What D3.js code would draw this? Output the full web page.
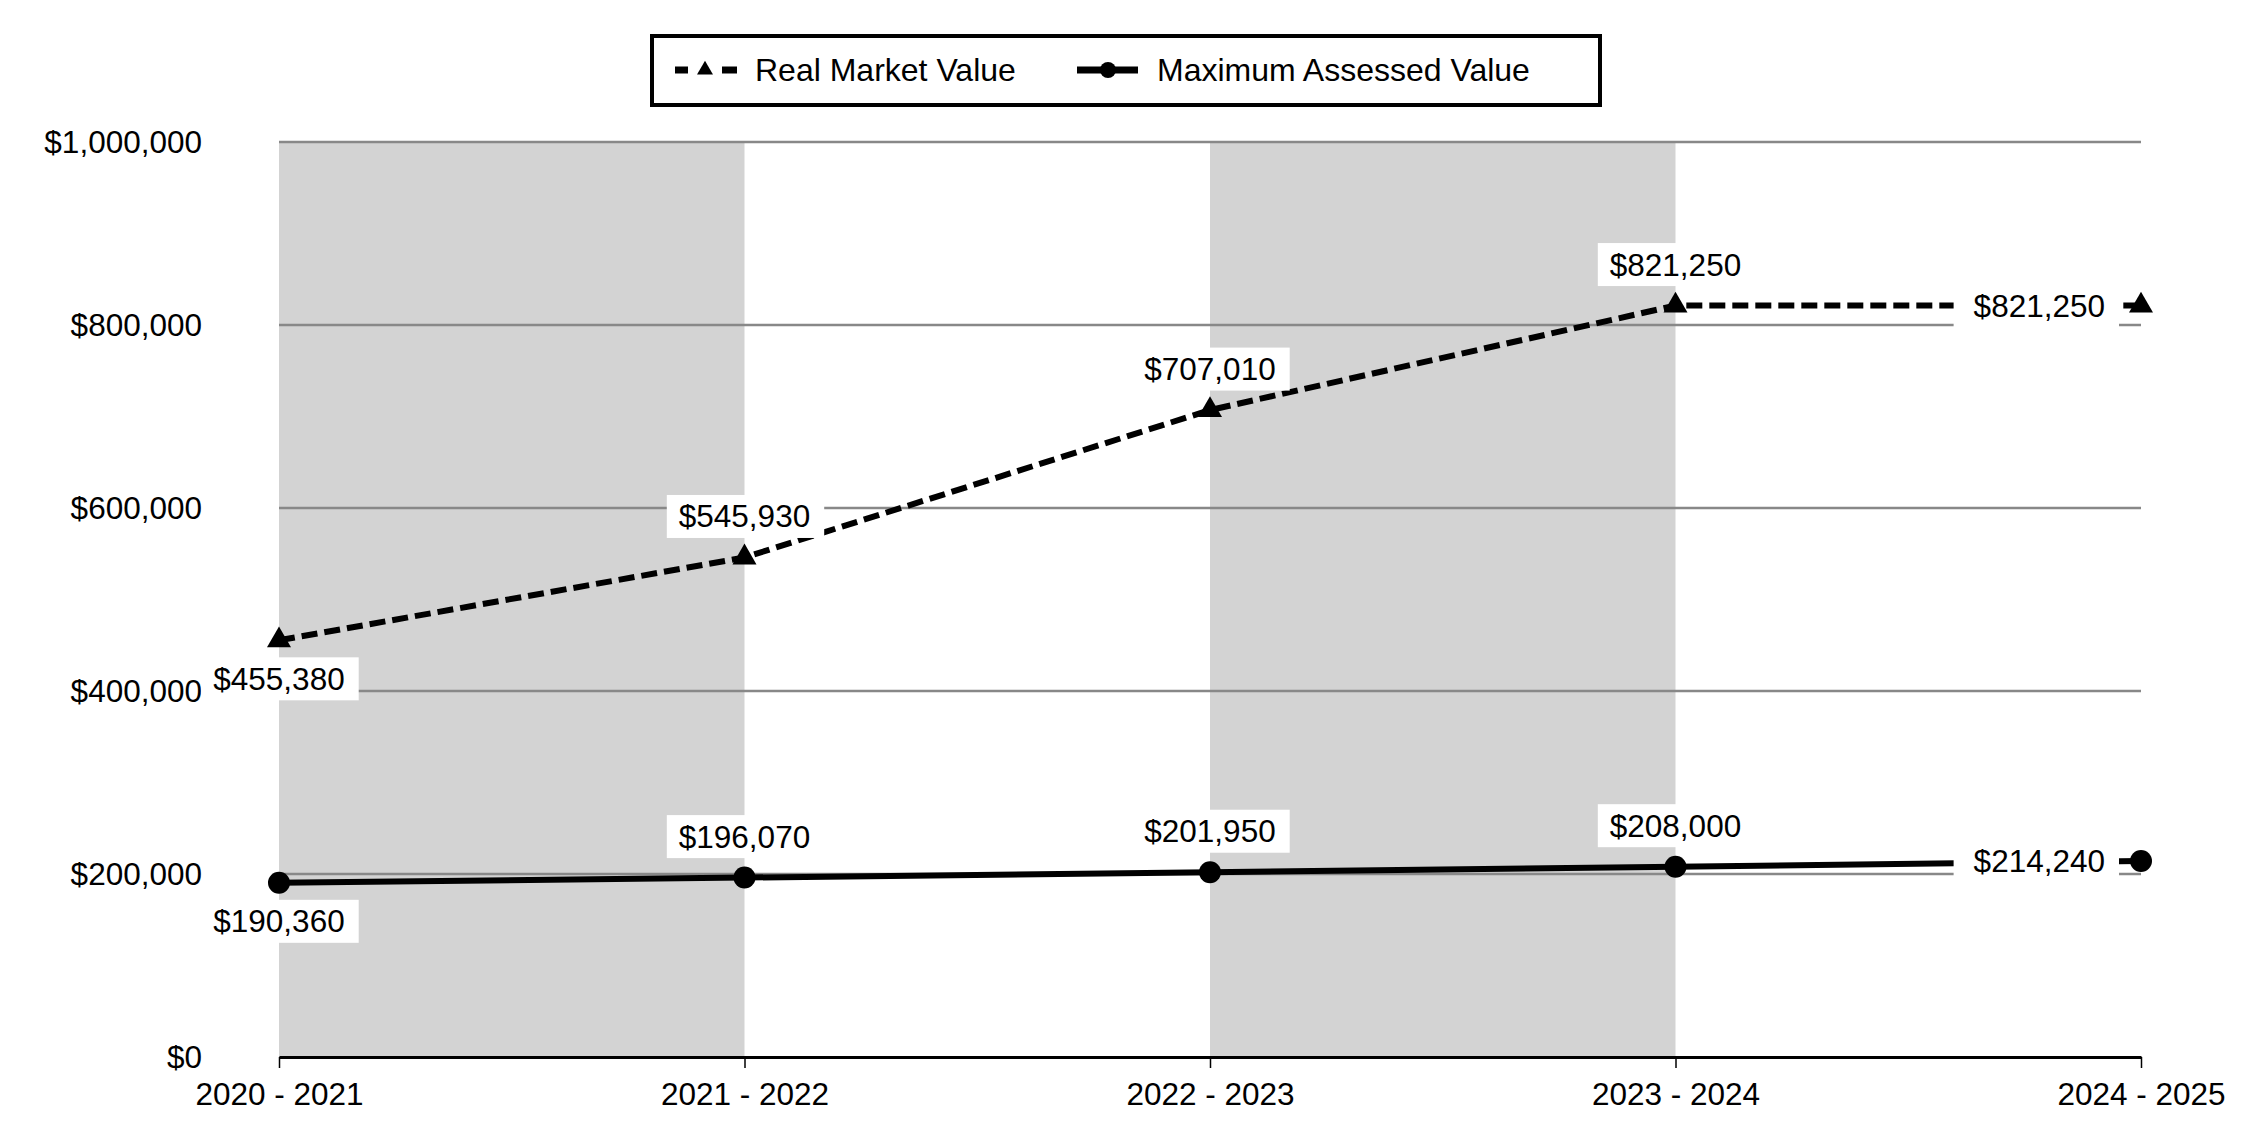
<!DOCTYPE html>
<html>
<head>
<meta charset="utf-8">
<script src="https://cdn.jsdelivr.net/npm/d3@7"></script>
<style>
  body { margin: 0; background: #fff; }
  text { font-family: "Liberation Sans", Arial, sans-serif; fill: #000; }
</style>
</head>
<body>
<div id="chart"></div>
<script>

// Chart values
const categories = ["2020 - 2021", "2021 - 2022", "2022 - 2023", "2023 - 2024", "2024 - 2025"];
const realMarket = [455380, 545930, 707010, 821250, 821250];
const maxAssessed = [190360, 196070, 201950, 208000, 214240];
const yTicks = [0, 200000, 400000, 600000, 800000, 1000000];
const seriesNames = ["Real Market Value", "Maximum Assessed Value"];

// Dimensions
const width = 2250;
const height = 1140;
const margin = {left: 279, right: 109, top: 142, bottom: 83};
const fontSize = 31.5;

const svg = d3.select("#chart")
  .append("svg")
  .attr("width", width)
  .attr("height", height);

// Scales
const xScale = d3.scalePoint()
  .domain(categories)
  .range([margin.left, width - margin.right]);

const yScale = d3.scaleLinear()
  .domain([0, 1000000])
  .range([height - margin.bottom, margin.top]);

const fmt = d => "$" + d3.format(",")(d);

// Grey bands on every other interval
svg.append("g")
  .selectAll("rect")
  .data(categories.slice(0, -1).filter((c, i) => i % 2 === 0))
  .enter()
  .append("rect")
    .attr("x", d => xScale(d))
    .attr("y", yScale(1000000))
    .attr("width", xScale.step())
    .attr("height", yScale(0) - yScale(1000000))
    .attr("fill", "#d3d3d3");

// Gridlines
svg.append("g")
  .selectAll("line")
  .data(yTicks.filter(d => d > 0))
  .enter()
  .append("line")
    .attr("x1", margin.left)
    .attr("x2", width - margin.right)
    .attr("y1", d => yScale(d))
    .attr("y2", d => yScale(d))
    .attr("stroke", "#888")
    .attr("stroke-width", 2.5);

// Y axis labels
const yAxis = svg.append("g")
  .attr("transform", `translate(${margin.left}, 0)`)
  .call(d3.axisLeft(yScale).tickValues(yTicks).tickSize(0).tickPadding(77).tickFormat(fmt));
yAxis.select(".domain").remove();
yAxis.selectAll("text").attr("font-size", fontSize).attr("font-family", null);

// X axis
const xAxis = svg.append("g")
  .attr("transform", `translate(0, ${yScale(0)})`)
  .call(d3.axisBottom(xScale).tickSize(11).tickSizeOuter(0).tickPadding(15));
xAxis.select(".domain").attr("stroke", "#000").attr("stroke-width", 3);
xAxis.selectAll(".tick line").attr("stroke", "#000").attr("stroke-width", 1.5);
xAxis.selectAll("text").attr("font-size", fontSize).attr("font-family", null);

// Lines
const line = d3.line()
  .x((d, i) => xScale(categories[i]))
  .y(d => yScale(d));

svg.append("path")
  .datum(realMarket)
  .attr("d", line)
  .attr("fill", "none")
  .attr("stroke", "#000")
  .attr("stroke-width", 6)
  .attr("stroke-dasharray", "16,7");

svg.append("path")
  .datum(maxAssessed)
  .attr("d", line)
  .attr("fill", "none")
  .attr("stroke", "#000")
  .attr("stroke-width", 6);

// Data labels with white boxes
const labelLayer = svg.append("g");
const last = categories.length - 1;

function addLabels(values) {
  values.forEach((v, i) => {
    const px = xScale(categories[i]);
    const py = yScale(v);
    let tx = px, ty, anchor = "middle";
    if (i === 0) {
      ty = py + 38.5;
    } else if (i === last) {
      tx = px - 36; ty = py; anchor = "end";
    } else {
      ty = py - 41;
    }
    const g = labelLayer.append("g");
    const rect = g.append("rect").attr("fill", "#fff");
    const t = g.append("text")
      .attr("x", tx)
      .attr("y", ty)
      .attr("dy", "0.35em")
      .attr("text-anchor", anchor)
      .attr("font-size", fontSize)
      .text(fmt(v));
    const bb = t.node().getBBox();
    const padL = i === last ? 20 : 12;
    rect.attr("x", bb.x - padL)
      .attr("y", ty - 21.5)
      .attr("width", bb.width + padL + 14)
      .attr("height", 43);
  });
}
addLabels(realMarket);
addLabels(maxAssessed);

// Markers
svg.append("g")
  .selectAll("path")
  .data(realMarket)
  .enter()
  .append("path")
    .attr("d", d3.symbol(d3.symbolTriangle, 250))
    .attr("transform", (d, i) => `translate(${xScale(categories[i])}, ${yScale(d)})`)
    .attr("fill", "#000");

svg.append("g")
  .selectAll("circle")
  .data(maxAssessed)
  .enter()
  .append("circle")
    .attr("cx", (d, i) => xScale(categories[i]))
    .attr("cy", d => yScale(d))
    .attr("r", 11)
    .attr("fill", "#000");

// Legend
const legend = svg.append("g");
legend.append("rect")
  .attr("x", 652).attr("y", 36)
  .attr("width", 948).attr("height", 69)
  .attr("fill", "#fff")
  .attr("stroke", "#000")
  .attr("stroke-width", 4);

legend.append("line")
  .attr("x1", 675).attr("x2", 688).attr("y1", 70).attr("y2", 70)
  .attr("stroke", "#000").attr("stroke-width", 7);
legend.append("line")
  .attr("x1", 722).attr("x2", 737).attr("y1", 70).attr("y2", 70)
  .attr("stroke", "#000").attr("stroke-width", 7);
legend.append("path")
  .attr("d", d3.symbol(d3.symbolTriangle, 110))
  .attr("transform", "translate(705, 70)")
  .attr("fill", "#000");
legend.append("text")
  .attr("x", 755).attr("y", 70).attr("dy", "0.35em")
  .attr("font-size", 32)
  .text(seriesNames[0]);

legend.append("line")
  .attr("x1", 1077).attr("x2", 1138).attr("y1", 70).attr("y2", 70)
  .attr("stroke", "#000").attr("stroke-width", 7);
legend.append("circle")
  .attr("cx", 1108).attr("cy", 70).attr("r", 8)
  .attr("fill", "#000");
legend.append("text")
  .attr("x", 1157).attr("y", 70).attr("dy", "0.35em")
  .attr("font-size", 32)
  .text(seriesNames[1]);

</script>
</body>
</html>
